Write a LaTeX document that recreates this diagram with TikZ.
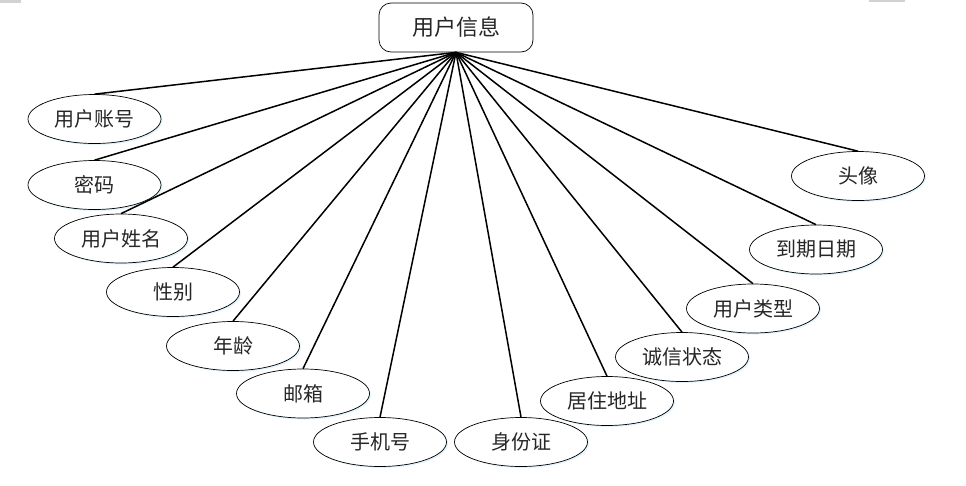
\documentclass[tikz,border=0pt]{standalone}
\usepackage{fontspec}
\newfontfamily\cjk{Noto Sans CJK SC}
\usetikzlibrary{shapes.geometric,shadows}
\begin{document}
\begin{tikzpicture}
  [x=1pt,y=-1pt,every node/.style={text=black!85,font=\cjk\fontsize{20}{20}\selectfont},
   attr/.style={ellipse,draw,line width=0.7pt,fill=white,minimum width=133pt,minimum height=49pt,inner sep=0pt,
     drop shadow={fill=cyan!12,shadow xshift=1.5pt,shadow yshift=-1.5pt,opacity=1}}]
\useasboundingbox (0,0) rectangle (966,485);
\fill [gray!35] (0,0) rectangle (21,3);
\fill [gray!35] (869,0) rectangle (905,2);
\node (n0)[draw,line width=0.7pt,rounded corners=12pt,minimum width=154pt,minimum height=49pt,
  font=\cjk\fontsize{22}{22}\selectfont] at (456,27.5) {用户信息};
\node (n1)[attr] at (94.5,119) {用户账号};
\node (n2)[attr] at (94.5,185) {密码};
\node (n3)[attr] at (121,238.5) {用户姓名};
\node (n4)[attr] at (173,292) {性别};
\node (n5)[attr] at (233,346) {年龄};
\node (n6)[attr] at (303,393.5) {邮箱};
\node (n7)[attr] at (380,442) {手机号};
\node (n8)[attr] at (521,442) {身份证};
\node (n9)[attr] at (607,401) {居住地址};
\node (n10)[attr] at (682,357) {诚信状态};
\node (n11)[attr] at (753,308.5) {用户类型};
\node (n12)[attr] at (816,249.5) {到期日期};
\node (n13)[attr] at (858,176) {头像};

\path [line width=1.5pt,black] (n0.south) edge (n1.north);
\path [line width=1.5pt,black] (n0.south) edge (n2.north);
\path [line width=1.5pt,black] (n0.south) edge (n3.north);
\path [line width=1.5pt,black] (n0.south) edge (n4.north);
\path [line width=1.5pt,black] (n0.south) edge (n5.north);
\path [line width=1.5pt,black] (n0.south) edge (n6.north);
\path [line width=1.5pt,black] (n0.south) edge (n7.north);
\path [line width=1.5pt,black] (n0.south) edge (n8.north);
\path [line width=1.5pt,black] (n0.south) edge (n9.north);
\path [line width=1.5pt,black] (n0.south) edge (n10.north);
\path [line width=1.5pt,black] (n0.south) edge (n11.north);
\path [line width=1.5pt,black] (n0.south) edge (n12.north);
\path [line width=1.5pt,black] (n0.south) edge (n13.north);
\end{tikzpicture}
\end{document}
